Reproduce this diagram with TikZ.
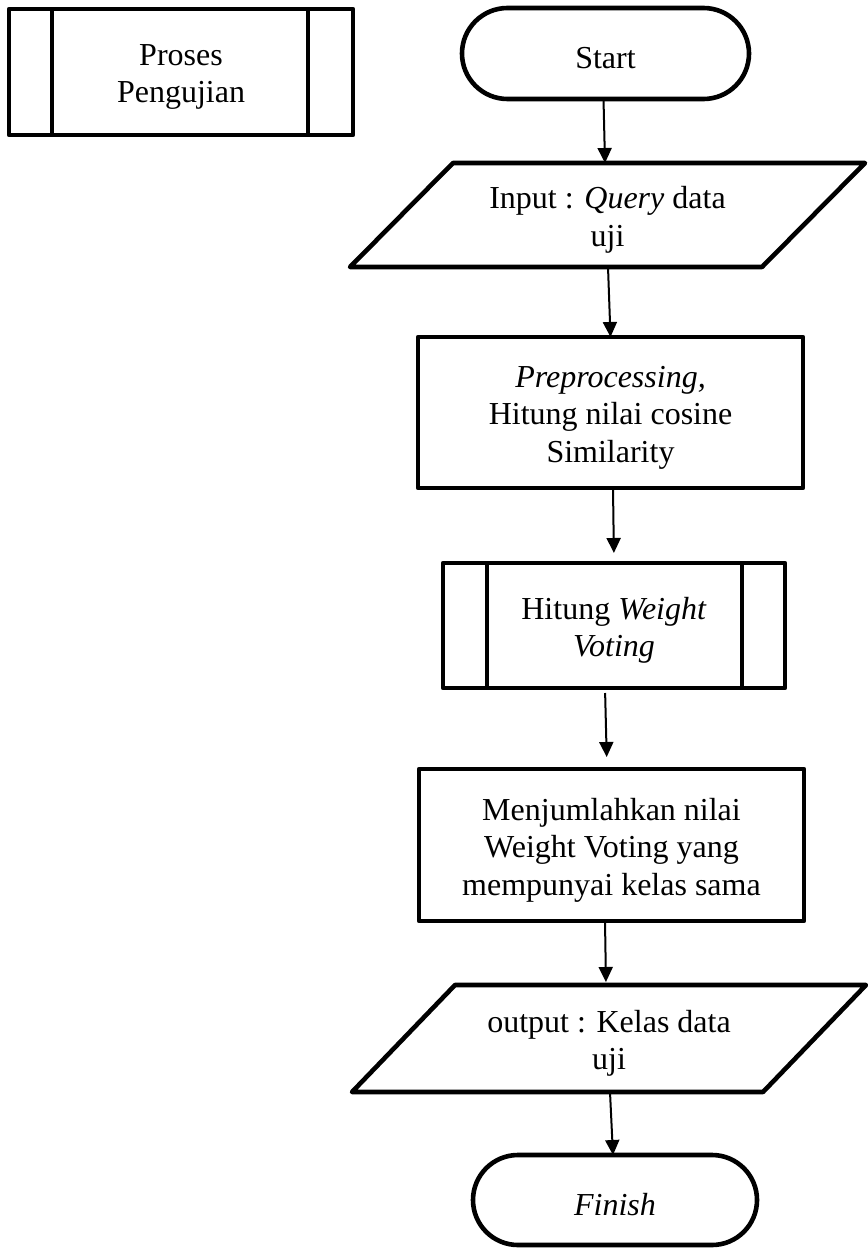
\documentclass[tikz,border=0pt]{standalone}
\usepackage{fontspec}
\setmainfont{Liberation Serif}
\usetikzlibrary{shapes.misc,arrows.meta}

\begin{document}
\begin{tikzpicture}[x=1pt,y=-1pt,
  every node/.style={inner sep=0pt, outer sep=0pt},
  txt/.style={font=\fontsize{32}{37.5}\selectfont, align=center},
  shapeline/.style={draw=black, line width=4.6pt, line join=round},
  terminal/.style={shapeline, rounded rectangle},
  procbox/.style={shapeline, rectangle},
  iobody/.style={rectangle},
  flow/.style={line width=2pt, -{Triangle[length=15pt,width=14pt]}}
]
\useasboundingbox (0,0) rectangle (867,1249);

% legend: predefined process symbol
\node[procbox, minimum width=344pt, minimum height=126pt] (legend) at (181,72) {};
\draw[shapeline] ([xshift=43pt]legend.north west) -- ([xshift=43pt]legend.south west);
\draw[shapeline] ([xshift=-45pt]legend.north east) -- ([xshift=-45pt]legend.south east);
\node[txt] (legend-text) at ([yshift=-5pt]legend.center) {Proses\\Pengujian};

% main flow
\node[terminal, minimum width=287pt, minimum height=91pt] (start) at (605.5,53.5) {};
\node[txt] (start-text) at ([yshift=-5pt]start.center) {Start};

% input / output symbols: a body rectangle with a slanted outline
\node[iobody, minimum width=412pt, minimum height=104pt] (input) at (607.5,215) {};
\draw[shapeline] ([xshift=51.5pt]input.north west) -- ([xshift=51.5pt]input.north east)
  -- ([xshift=-51.5pt]input.south east) -- ([xshift=-51.5pt]input.south west) -- cycle;
\node[txt] (input-text) at ([yshift=-5pt]input.center) {Input : \textit{Query} data\\uji};

\node[procbox, minimum width=385pt, minimum height=151pt] (prep) at (610.5,412.5) {};
\node[txt] (prep-text) at ([yshift=-5pt]prep.center)
  {\textit{Preprocessing,}\\Hitung nilai cosine\\Similarity};

\node[procbox, minimum width=342pt, minimum height=125pt] (weight) at (614,625.5) {};
\draw[shapeline] ([xshift=44pt]weight.north west) -- ([xshift=44pt]weight.south west);
\draw[shapeline] ([xshift=-43pt]weight.north east) -- ([xshift=-43pt]weight.south east);
\node[txt] (weight-text) at ([yshift=-5pt]weight.center) {Hitung \textit{Weight}\\\textit{Voting}};

\node[procbox, minimum width=385pt, minimum height=152pt] (sum) at (611.5,845) {};
\node[txt] (sum-text) at ([yshift=-5pt]sum.center)
  {Menjumlahkan nilai\\Weight Voting yang\\mempunyai kelas sama};

\node[iobody, minimum width=411pt, minimum height=107pt] (output) at (609,1038.5) {};
\draw[shapeline] ([xshift=51.5pt]output.north west) -- ([xshift=51.5pt]output.north east)
  -- ([xshift=-51.5pt]output.south east) -- ([xshift=-51.5pt]output.south west) -- cycle;
\node[txt] (output-text) at ([yshift=-5pt]output.center) {output : Kelas data\\uji};

\node[terminal, minimum width=284pt, minimum height=90pt] (finish) at (615,1200) {};
\node[txt] (finish-text) at ([yshift=-5pt]finish.center) {\textit{Finish}};

% connectors
\draw[flow] ([xshift=-2pt]start.south) -- ([xshift=-2.5pt]input.north);
\draw[flow] ([xshift=0.5pt]input.south) -- (prep.north);
\draw[flow, shorten >=10pt] ([xshift=2.5pt]prep.south) -- (weight.north);
\draw[flow, shorten <=5pt, shorten >=12pt] ([xshift=-9pt]weight.south) -- ([xshift=-4.5pt]sum.north);
\draw[flow, shorten >=3pt] ([xshift=-6.5pt]sum.south) -- ([xshift=-3pt]output.north);
\draw[flow] ([xshift=1pt]output.south) -- ([xshift=-2pt]finish.north);
\end{tikzpicture}
\end{document}
